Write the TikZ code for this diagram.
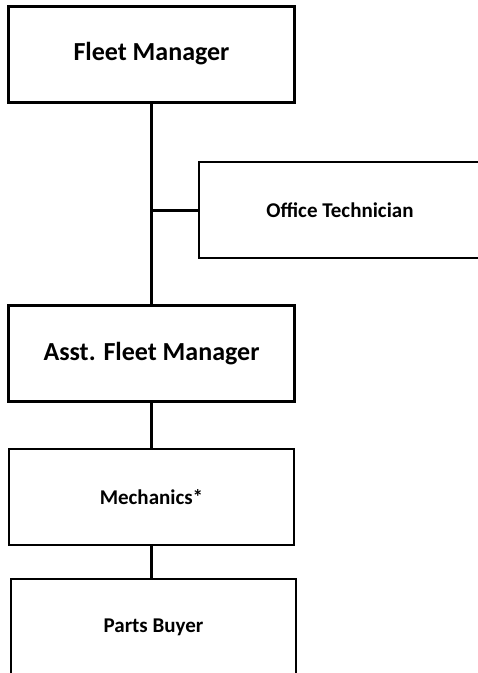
\documentclass[tikz,border=0pt]{standalone}
\usepackage{fontspec}
\setmainfont{Carlito}

\tikzset{
  headbox/.style={draw, line width=3pt, minimum width=286pt,
    minimum height=96pt, inner sep=0pt,
    font=\fontsize{26}{30}\selectfont\bfseries},
  staffbox/.style={draw, line width=1.5pt, minimum width=285pt,
    minimum height=96pt, inner sep=0pt,
    font=\fontsize{21}{25}\selectfont\bfseries},
  link/.style={line width=3pt}
}

\begin{document}
\begin{tikzpicture}[x=1pt,y=1pt]

\useasboundingbox (0,0) rectangle (478,-673);

% boxes
\node[headbox] (fleet) at (151.5,-54) {Fleet Manager};
\node[staffbox, minimum width=282pt] (office) at (340,-210) {Office Technician};
\node[headbox] (asst) at (151.5,-353.5) {Asst. Fleet Manager};
\node[staffbox] (mech) at (151.5,-497) {Mechanics*};
\node[staffbox] (parts) at (153.5,-627) {Parts Buyer};

% links
\draw[link] (fleet.south) -- (asst.north);
\coordinate (branch) at (fleet.south |- office.west);
\draw[link] (branch) -- (office.west);
\draw[link] (asst.south) -- (mech.north);
\draw[link] (mech.south) -- (mech.south |- parts.north);

\end{tikzpicture}
\end{document}
